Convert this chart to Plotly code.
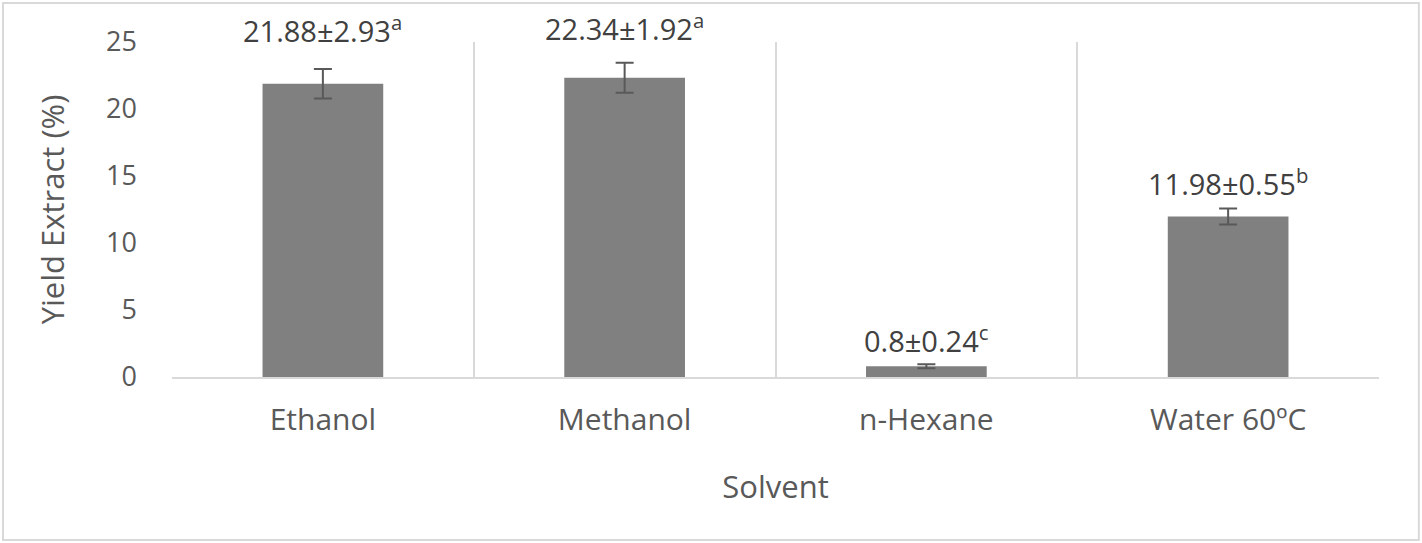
import plotly.graph_objects as go

solvents = ['Ethanol', 'Methanol', 'n-Hexane', 'Water 60ºC']
yield_mean = [21.88, 22.34, 0.8, 11.98]
yield_sd = [2.93, 1.92, 0.24, 0.55]
letters = ['a', 'a', 'c', 'b']
# error bars as drawn in the figure (smaller than the sd in the labels)
err_drawn = [1.1, 1.12, 0.15, 0.6]

font = 'Open Sans'
axis_grey = '#595959'
line_grey = '#d9d9d9'

fig = go.Figure()
fig.add_trace(go.Bar(
    x=solvents, y=yield_mean,
    width=0.4,
    marker=dict(color='#808080', line=dict(width=0)),
    error_y=dict(type='data', array=err_drawn, visible=True,
                 color=axis_grey, thickness=2, width=9),
))

# labels above error bars
label_shift = [40, 36, 25, 26]
for i in range(len(solvents)):
    fig.add_annotation(
        x=solvents[i], y=yield_mean[i] + err_drawn[i],
        text=f'{yield_mean[i]}±{yield_sd[i]}<sup>{letters[i]}</sup>',
        showarrow=False, yanchor='middle', yshift=label_shift[i],
        font=dict(family=font, size=29, color='#404040'),
    )

# outer chart border
fig.add_shape(type='rect', xref='paper', yref='paper',
              x0=-0.14, x1=1.033, y0=-0.4866, y1=1.1164,
              line=dict(color=line_grey, width=2))

fig.update_layout(
    width=1422, height=543,
    margin=dict(l=172, r=43, t=42, b=166),
    plot_bgcolor='white', paper_bgcolor='white',
    font=dict(family=font, size=27, color=axis_grey),
    showlegend=False,
    xaxis=dict(
        tickson='boundaries', showgrid=True, gridcolor=line_grey, gridwidth=2,
        showline=True, linecolor=line_grey, linewidth=2,
        ticks='', ticklabelstandoff=15, tickfont=dict(size=30),
        title=dict(text='Solvent', font=dict(size=31), standoff=38),
    ),
    yaxis=dict(
        range=[0, 25], dtick=5, showgrid=False, zeroline=False,
        showline=False, ticks='', ticklabelstandoff=34,
        title=dict(text='Yield Extract (%)', font=dict(size=31), standoff=32),
    ),
)

fig.write_html('out.html', config={'displayModeBar': False},
               post_script="document.body.style.margin='0';")
